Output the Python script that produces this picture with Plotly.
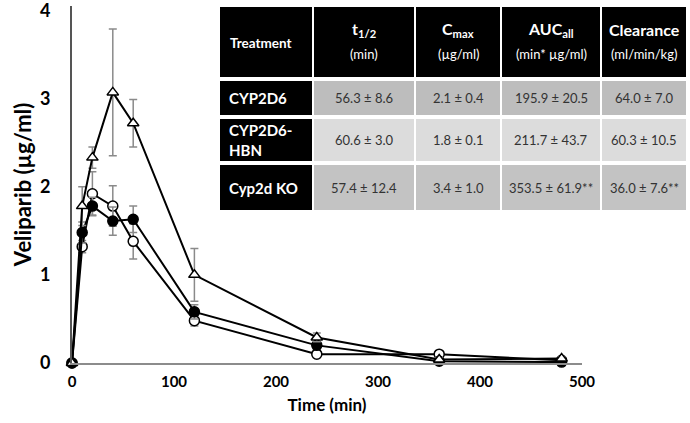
import plotly.graph_objects as go

# ---- data ----
time_min = [0, 10, 20, 40, 60, 120, 240, 360, 480]
cyp2d6_mean = [0, 1.32, 1.92, 1.78, 1.38, 0.48, 0.10, 0.10, 0.03]
cyp2d6_sd = [0, 0.07, 0.25, 0.23, 0.20, 0.06, 0.02, 0.03, 0.01]
hbn_mean = [0, 1.48, 1.78, 1.61, 1.63, 0.58, 0.20, 0.02, 0.01]
hbn_sd = [0, 0.12, 0.10, 0.16, 0.15, 0.08, 0.03, 0.01, 0.01]
ko_mean = [0, 1.78, 2.33, 3.07, 2.72, 1.00, 0.29, 0.04, 0.05]
ko_sd = [0, 0.22, 0.12, 0.72, 0.27, 0.30, 0.05, 0.02, 0.02]

x_ticks = [0, 100, 200, 300, 400, 500]
y_ticks = [0, 1, 2, 3, 4]
x_ticklabels = ["<b>%d</b>" % v for v in x_ticks]
y_ticklabels = ["<b>%d</b>" % v for v in y_ticks]

table_header_main = ["Treatment", "t<sub>1/2</sub>", "C<sub>max</sub>", "AUC<sub>all</sub>", "Clearance"]
table_header_unit = ["", "(min)", "(µg/ml)", "(min* µg/ml)", "(ml/min/kg)"]
table_rows = ["CYP2D6", "CYP2D6-<br>HBN", "Cyp2d KO"]
t_half = ["56.3 ± 8.6", "60.6 ± 3.0", "57.4 ± 12.4"]
c_max = ["2.1 ± 0.4", "1.8 ± 0.1", "3.4 ± 1.0"]
auc_all = ["195.9 ± 20.5", "211.7 ± 43.7", "353.5 ± 61.9**"]
clearance = ["64.0 ± 7.0", "60.3 ± 10.5", "36.0 ± 7.6**"]

FONT = "Lato"
fig = go.Figure()

def add_series(y, sd, symbol, fill, name):
    fig.add_trace(go.Scatter(
        x=time_min, y=y, name=name, mode="lines+markers",
        line=dict(color="black", width=2),
        marker=dict(symbol=symbol, size=10, color=fill,
                    line=dict(color="black", width=1.5)),
        error_y=dict(type="data", array=sd, visible=True,
                     color="#8a8a8a", thickness=1.5, width=4),
        cliponaxis=False,
    ))

add_series(cyp2d6_mean, cyp2d6_sd, "circle", "white", "CYP2D6")
add_series(hbn_mean, hbn_sd, "circle", "black", "CYP2D6-HBN")
add_series(ko_mean, ko_sd, "triangle-up", "white", "Cyp2d KO")

# ---- layout geometry (pixels) ----
W, H = 690, 423
ML, MR, MT, MB = 72, 108, 6, 60
PW, PH = W - ML - MR, H - MT - MB

def px(x):
    return (x - ML) / PW

def py(y):
    return (H - MB - y) / PH

shapes = []
annotations = []

col_edges = [219, 313, 415, 501, 601, 687]
header_rows = (7, 77)
body_rows = [(80, 116), (118, 162), (164, 211)]
body_colors = ["#bdbdbd", "#dcdcdc", "#c3c3c3"]
gap = 1

def rect(x0, y0, x1, y1, color):
    shapes.append(dict(type="rect", xref="paper", yref="paper",
                       x0=px(x0), x1=px(x1), y0=py(y1), y1=py(y0),
                       fillcolor=color, line=dict(width=0), layer="above"))

def text(x, y, s, size, color, anchor="center", bold=False):
    if not s:
        return
    annotations.append(dict(xref="paper", yref="paper", x=px(x), y=py(y),
                            xanchor=anchor, yanchor="middle", showarrow=False, align="left",
                            text=("<b>" + s + "</b>") if bold else s,
                            font=dict(family=FONT, size=size, color=color)))

# white backing
rect(col_edges[0] - 2, header_rows[0] - 2, col_edges[-1] + 2, body_rows[-1][1] + 2, "white")

# header
for i in range(5):
    x0, x1 = col_edges[i] + gap, col_edges[i + 1] - gap
    rect(x0, header_rows[0], x1, header_rows[1], "black")
    if i == 0:
        text(x0 + 8, 43, table_header_main[i], 13.5, "white", "left", True)
    else:
        xc = (x0 + x1) / 2
        text(xc, 30, table_header_main[i], 16, "white", "center", True)
        text(xc, 54, table_header_unit[i], 13, "white", "center")

body_values = [t_half, c_max, auc_all, clearance]
for r, (y0, y1) in enumerate(body_rows):
    for i in range(5):
        x0, x1 = col_edges[i] + gap, col_edges[i + 1] - gap
        color = "black" if i == 0 else body_colors[r]
        rect(x0, y0 + gap, x1, y1 - gap, color)
        ym = (y0 + y1) / 2
        if i == 0:
            text(x0 + 7, ym, table_rows[r], 15, "white", "left", True)
        else:
            text((x0 + x1) / 2, ym, body_values[i - 1][r], 13, "#333333")

fig.update_layout(
    width=W, height=H,
    margin=dict(l=ML, r=MR, t=MT, b=MB, autoexpand=False),
    paper_bgcolor="white", plot_bgcolor="white",
    showlegend=False,
    shapes=shapes, annotations=annotations,
    xaxis=dict(range=[0, 500], tickvals=x_ticks, ticktext=x_ticklabels,
               showgrid=False, zeroline=False,
               showline=True, linecolor="#8c8c8c", linewidth=2, ticks="",
               automargin=False, ticklabelstandoff=4,
               tickfont=dict(family=FONT, size=15, color="black"),
               title=dict(text="<b>Time (min)</b>", font=dict(family=FONT, size=17, color="black"),
                          standoff=10)),
    yaxis=dict(range=[0, 4.05], tickvals=y_ticks, ticktext=y_ticklabels,
               showgrid=False, zeroline=False,
               showline=True, linecolor="#555555", linewidth=2, ticks="",
               automargin=False, ticklabelstandoff=16, ticklabeloverflow="allow",
               tickfont=dict(family=FONT, size=18, color="black"),
               title=dict(text="<b>Veliparib (µg/ml)</b>", font=dict(family=FONT, size=22, color="black"),
                          standoff=2)),
)

fig.write_html("out.html", config={"displayModeBar": False},
               post_script="document.body.style.margin='0';document.body.style.overflow='hidden';")
